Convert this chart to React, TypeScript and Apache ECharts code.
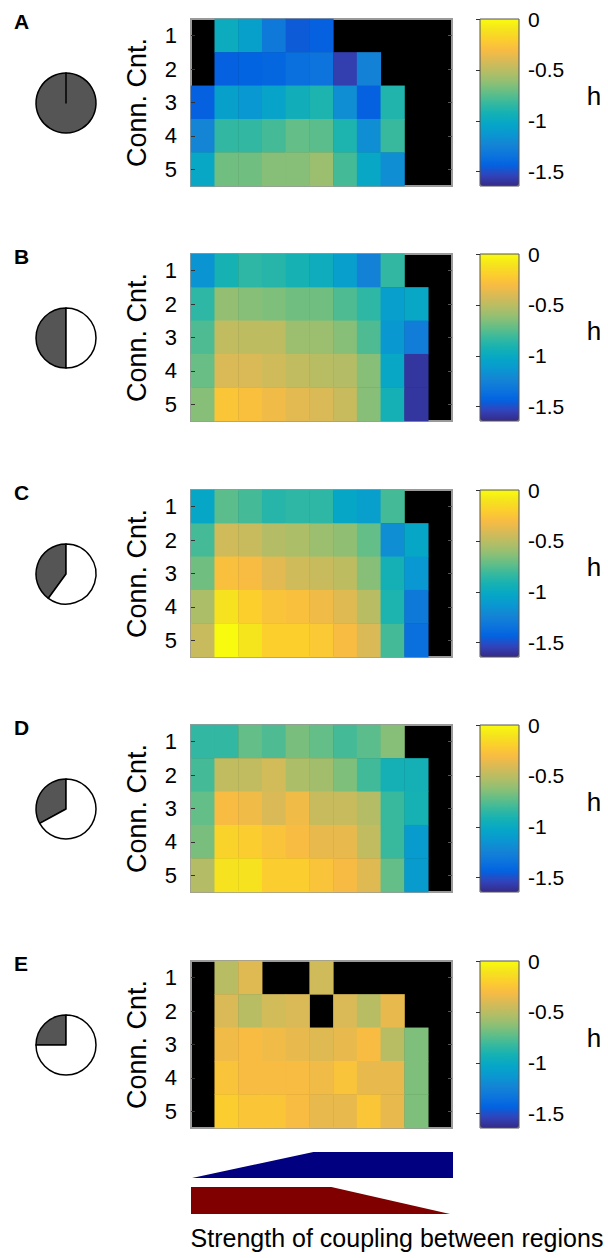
import React, { useEffect, useRef } from 'react';
import * as echarts from 'echarts';

// ---------- data ----------
const rowLabels = ['1', '2', '3', '4', '5'];
const colLabels = ['1', '2', '3', '4', '5', '6', '7', '8', '9', '10', '11'];
const panelLetters = ['A', 'B', 'C', 'D', 'E'];
const pieFractions = [1, 0.5, 0.4, 0.33, 0.25];

const panelA = [
  [null, -0.98, -1.07, -1.31, -1.46, -1.44, null, null, null, null, null],
  [null, -1.44, -1.43, -1.41, -1.36, -1.34, -1.56, -1.25, null, null, null],
  [-1.44, -1.07, -1.13, -1.05, -0.95, -0.9, -1.18, -1.44, -0.89, null, null],
  [-1.23, -0.84, -0.84, -0.79, -0.72, -0.74, -0.9, -1.18, -0.82, null, null],
  [-1.02, -0.69, -0.69, -0.64, -0.64, -0.59, -0.79, -1.02, -1.18, null, null],
];
const panelB = [
  [-1.15, -0.92, -0.85, -0.87, -0.92, -0.97, -1.08, -1.25, -0.84, null, null],
  [-0.85, -0.61, -0.64, -0.66, -0.69, -0.69, -0.77, -0.85, -1.08, -1.02, null],
  [-0.77, -0.48, -0.49, -0.49, -0.59, -0.59, -0.64, -0.77, -1.12, -1.28, null],
  [-0.71, -0.41, -0.41, -0.44, -0.48, -0.51, -0.52, -0.64, -1.02, -1.59, null],
  [-0.64, -0.25, -0.28, -0.33, -0.38, -0.41, -0.46, -0.64, -0.93, -1.59, null],
];
const panelC = [
  [-1.03, -0.74, -0.79, -0.87, -0.85, -0.85, -1.03, -1.08, -0.79, null, null],
  [-0.79, -0.44, -0.46, -0.52, -0.54, -0.59, -0.62, -0.72, -1.18, -1.03, null],
  [-0.69, -0.28, -0.3, -0.38, -0.44, -0.46, -0.49, -0.64, -0.93, -1.13, null],
  [-0.54, -0.11, -0.2, -0.26, -0.28, -0.33, -0.39, -0.51, -0.9, -1.31, null],
  [-0.46, 0.0, -0.1, -0.2, -0.2, -0.23, -0.3, -0.41, -0.79, -1.36, null],
];
const panelD = [
  [-0.84, -0.84, -0.72, -0.77, -0.67, -0.72, -0.79, -0.74, -0.64, null, null],
  [-0.79, -0.48, -0.48, -0.43, -0.54, -0.57, -0.66, -0.8, -0.93, -0.93, null],
  [-0.72, -0.3, -0.33, -0.41, -0.33, -0.46, -0.46, -0.52, -0.82, -0.92, null],
  [-0.67, -0.18, -0.21, -0.26, -0.3, -0.36, -0.36, -0.48, -0.82, -1.1, null],
  [-0.52, -0.11, -0.11, -0.21, -0.21, -0.26, -0.31, -0.39, -0.72, -1.1, null],
];
const panelE = [
  [null, -0.51, -0.39, null, null, -0.44, null, null, null, null, null],
  [null, -0.41, -0.51, -0.43, -0.41, null, -0.41, -0.51, -0.36, null, null],
  [null, -0.33, -0.3, -0.33, -0.36, -0.39, -0.36, -0.3, -0.51, -0.66, null],
  [null, -0.26, -0.3, -0.3, -0.3, -0.33, -0.26, -0.36, -0.36, -0.66, null],
  [null, -0.21, -0.25, -0.25, -0.3, -0.36, -0.36, -0.25, -0.36, -0.66, null],
];
const panels = [panelA, panelB, panelC, panelD, panelE];

const hMin = -1.64;
const hMax = 0;
const colorbarTicks = [0, -0.5, -1, -1.5];

// coupling profiles (fraction of range, relative strength)
const blueProfile = [[0, 0], [0.465, 1], [1, 1]];
const redProfile = [[0, 1], [0.542, 1], [1, 0]];

const parula = [
  '#352a87', '#3243ba', '#0363e1', '#0d75dc', '#1485d4', '#0998d1', '#06a7c6', '#15b1b4',
  '#38b99e', '#65be86', '#92bf73', '#b7bd64', '#d9ba56', '#f8bb44', '#fcce2e', '#f5e41d', '#f9fb0e',
];

// ---------- layout ----------
const FONT = 'Liberation Sans, Arial, Helvetica, sans-serif';
const panelTops = [19, 254, 490, 725, 961];
const HEAT_LEFT = 191;
const HEAT_W = 261;
const PANEL_H = 167;
const CB_LEFT = 480;
const CB_W = 39;

export default function App() {
  const ref = useRef<HTMLDivElement>(null);

  useEffect(() => {
    if (!ref.current) return;
    const chart = echarts.init(ref.current, null, { renderer: 'svg' });

    const grid: any[] = [];
    const xAxis: any[] = [];
    const yAxis: any[] = [];
    const series: any[] = [];
    const visualMap: any[] = [];
    const graphic: any[] = [];

    panels.forEach((panel, i) => {
      const top = panelTops[i];
      grid.push({
        left: HEAT_LEFT, top, width: HEAT_W, height: PANEL_H,
        show: true, backgroundColor: '#000', borderColor: '#9a9a9a', borderWidth: 2,
      });
      grid.push({
        left: CB_LEFT, top, width: CB_W, height: PANEL_H,
        show: true, backgroundColor: 'transparent', borderColor: '#555', borderWidth: 1, z: 6,
      });
      xAxis.push({ type: 'category', gridIndex: 2 * i, data: colLabels, show: false });
      xAxis.push({ type: 'value', gridIndex: 2 * i + 1, min: 0, max: 1, show: false });
      yAxis.push({
        type: 'category', gridIndex: 2 * i, data: rowLabels, inverse: true, z: 5,
        name: 'Conn. Cnt.', nameLocation: 'middle', nameRotate: 90, nameGap: 41,
        nameTextStyle: { fontSize: 27, color: '#000', fontFamily: FONT },
        axisLine: { show: false },
        axisTick: { show: true, inside: true, length: 4, alignWithLabel: true, lineStyle: { color: '#333' } },
        axisLabel: { fontSize: 22, color: '#000', fontFamily: FONT, margin: 14 },
        splitLine: { show: false },
      });
      yAxis.push({
        type: 'category', gridIndex: 2 * i, data: rowLabels, inverse: true, position: 'right', z: 5,
        axisLine: { show: false },
        axisTick: { show: true, inside: true, length: 4, alignWithLabel: true, lineStyle: { color: '#555' } },
        axisLabel: { show: false },
        splitLine: { show: false },
      });
      yAxis.push({
        type: 'value', gridIndex: 2 * i + 1, min: hMin, max: hMax, position: 'right', z: 6,
        axisLine: { show: false },
        axisTick: { show: true, inside: true, length: 4, customValues: colorbarTicks, lineStyle: { color: '#333' } },
        axisLabel: { show: true, customValues: colorbarTicks, fontSize: 21, color: '#000', fontFamily: FONT, margin: 9 },
        splitLine: { show: false },
      });

      const data: any[] = [];
      panel.forEach((row, r) => {
        row.forEach((v, c) => {
          if (v !== null) data.push([c, r, v]);
        });
      });
      series.push({
        type: 'heatmap', xAxisIndex: 2 * i, yAxisIndex: 3 * i, data,
        itemStyle: { borderWidth: 0 }, emphasis: { disabled: true }, silent: true,
      });

      visualMap.push({
        type: 'continuous', seriesIndex: i, min: hMin, max: hMax,
        left: CB_LEFT, top, itemWidth: CB_W, itemHeight: PANEL_H, padding: 0,
        calculable: false, hoverLink: false, text: null, z: 4,
        inRange: { color: parula },
      });

      graphic.push({
        type: 'text', left: 14, top: top - 8,
        style: { text: panelLetters[i], font: `bold 21px ${FONT}`, fill: '#000' },
      });
      graphic.push({
        type: 'text', x: 594, y: top + 77,
        style: { text: 'h', font: `26px ${FONT}`, fill: '#000', align: 'center', verticalAlign: 'middle' },
      });
    });

    panels.forEach((_, i) => {
      const f = pieFractions[i];
      series.push({
        type: 'pie', center: [66, panelTops[i] + 84], radius: 30, startAngle: 90, clockwise: false,
        silent: true, label: { show: false }, labelLine: { show: false },
        itemStyle: { borderColor: '#000', borderWidth: 1.5 },
        data: [
          { value: f, name: 'connected', itemStyle: { color: '#555' } },
          { value: 1 - f, name: 'other', itemStyle: { color: '#fff' } },
        ],
      });
    });

    grid.push({ left: 192, top: 1152, width: 261, height: 26 });
    grid.push({ left: 191, top: 1187, width: 259, height: 27 });
    xAxis.push({ type: 'value', gridIndex: 10, min: 0, max: 1, show: false });
    xAxis.push({ type: 'value', gridIndex: 11, min: 0, max: 1, show: false });
    yAxis.push({ type: 'value', gridIndex: 10, min: 0, max: 1, show: false });
    yAxis.push({ type: 'value', gridIndex: 11, min: 0, max: 1, show: false });
    series.push({
      type: 'line', xAxisIndex: 10, yAxisIndex: 15, data: blueProfile, symbol: 'none', silent: true,
      lineStyle: { width: 0 }, areaStyle: { color: '#000080', opacity: 1 },
    });
    series.push({
      type: 'line', xAxisIndex: 11, yAxisIndex: 16, data: redProfile, symbol: 'none', silent: true,
      lineStyle: { width: 0 }, areaStyle: { color: '#800000', opacity: 1 },
    });

    graphic.push({
      type: 'text', x: 397, y: 1238,
      style: {
        text: 'Strength of coupling between regions', font: `25px ${FONT}`, fill: '#000',
        align: 'center', verticalAlign: 'middle',
      },
    });

    chart.setOption({
      animation: false,
      backgroundColor: '#fff',
      textStyle: { fontFamily: FONT },
      grid, xAxis, yAxis, series, visualMap, graphic,
    });

    return () => chart.dispose();
  }, []);

  return (
    <div
      ref={ref}
      style={{ position: 'absolute', left: 0, top: 0, width: 608, height: 1258 }}
    />
  );
}
